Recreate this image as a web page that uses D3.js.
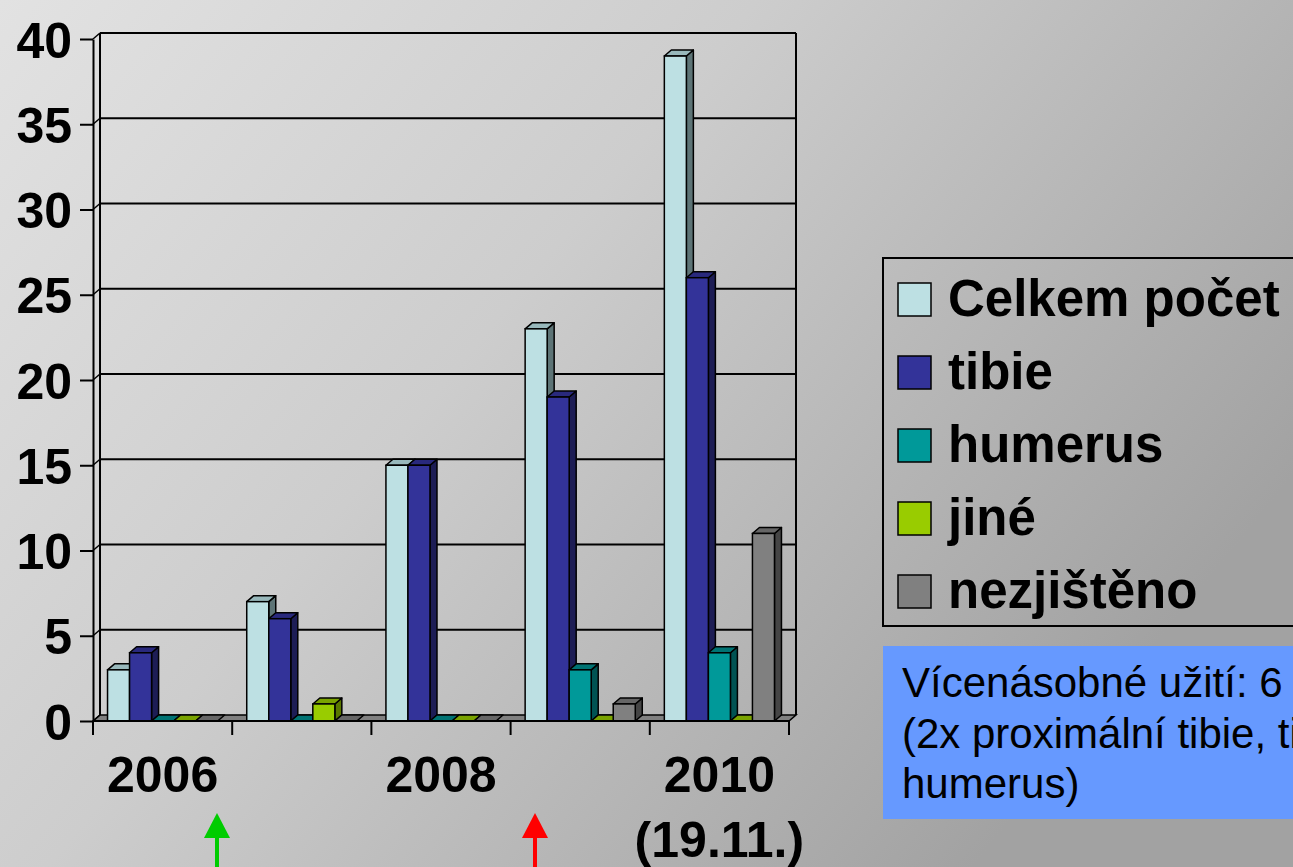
<!DOCTYPE html>
<html>
<head>
<meta charset="utf-8">
<script src="https://cdn.jsdelivr.net/npm/d3@7"></script>
<style>
  body { margin: 0; overflow: hidden; }
  text { font-family: "Liberation Sans", Arial, sans-serif; }
</style>
</head>
<body>
<div id="graf"></div>
<script>
// I. Datos
roky = ['2006', '2007', '2008', '2009', '2010']
popisky = ['2006', '', '2008', '', '2010']
popisky2 = ['', '', '', '', '(19.11.)']
serie = ['Celkem počet', 'tibie', 'humerus', 'jiné', 'nezjištěno']
celkem     = [3, 7, 15, 23, 39]
tibie      = [4, 6, 15, 19, 26]
humerus    = [0, 0, 0, 3, 4]
jine       = [0, 1, 0, 0, 0]
nezjisteno = [0, 0, 0, 1, 11]
yTicks = [0, 5, 10, 15, 20, 25, 30, 35, 40]
poznamka = ['Vícenásobné užití: 6', '(2x proximální tibie, tibie a', 'humerus)']

hodnoty = [celkem, tibie, humerus, jine, nezjisteno]
// barvy: předek, vrch, bok
barvy = [
  ['#bde0e3', '#98b8bb', '#5d7476'],
  ['#333399', '#29297d', '#1d1d55'],
  ['#009999', '#007373', '#005353'],
  ['#99cc00', '#7aa300', '#5a7800'],
  ['#808080', '#666666', '#454545']
]

// II. Configuración
W = 1293, H = 867
hloubka = { dx: 7, dy: -6 }

svg = d3.select('#graf').append('svg')
        .attr('width', W).attr('height', H)

defs = svg.append('defs')
grad = defs.append('linearGradient').attr('id', 'bg')
           .attr('x1', 0).attr('y1', 0).attr('x2', 1).attr('y2', 0.55)
grad.append('stop').attr('offset', '0%').attr('stop-color', '#e2e2e2')
grad.append('stop').attr('offset', '45%').attr('stop-color', '#cdcdcd')
grad.append('stop').attr('offset', '100%').attr('stop-color', '#a2a2a2')
svg.append('rect').attr('width', W).attr('height', H).attr('fill', 'url(#bg)')

y = d3.scaleLinear().domain([0, 40]).range([721, 39])
x = d3.scaleBand().domain(roky).range([93, 789]).paddingInner(0).paddingOuter(0)
xs = d3.scaleBand().domain(serie).range([0, x.bandwidth()]).paddingInner(0).paddingOuter(0.66)

g = svg.append('g')

// back wall + floor
x0 = x.range()[0], x1 = x.range()[1]
g.append('path')
  .attr('d', `M${x0},${y(0)} L${x1},${y(0)} L${x1 + hloubka.dx},${y(0) + hloubka.dy} L${x0 + hloubka.dx},${y(0) + hloubka.dy} Z`)
  .attr('fill', '#808080').attr('stroke', '#000').attr('stroke-width', 1.5)

yTicks.forEach(t => {
  g.append('line')
    .attr('x1', x0 + hloubka.dx).attr('x2', x1 + hloubka.dx)
    .attr('y1', y(t) + hloubka.dy).attr('y2', y(t) + hloubka.dy)
    .attr('stroke', '#000').attr('stroke-width', t === 0 ? 0 : 2)
  g.append('line')
    .attr('x1', x0).attr('x2', x0 + hloubka.dx)
    .attr('y1', y(t)).attr('y2', y(t) + hloubka.dy)
    .attr('stroke', '#000').attr('stroke-width', 1.5)
})
g.append('line')
  .attr('x1', x0 + hloubka.dx).attr('x2', x0 + hloubka.dx)
  .attr('y1', y(40) + hloubka.dy).attr('y2', y(0) + hloubka.dy)
  .attr('stroke', '#000').attr('stroke-width', 2)
g.append('line')
  .attr('x1', x1 + hloubka.dx).attr('x2', x1 + hloubka.dx)
  .attr('y1', y(40) + hloubka.dy).attr('y2', y(0) + hloubka.dy)
  .attr('stroke', '#000').attr('stroke-width', 2)

// III. Bars (zleva doprava, pravý sloupec překryje bok levého)
roky.forEach((rok, i) => {
  serie.forEach((s, j) => {
    let v = hodnoty[j][i]
    let bx = x(rok) + xs(s)
    let bw = xs.bandwidth()
    let vrch = y(v), spod = y(0)
    let c = barvy[j]
    let bar = g.append('g')
    if (v > 0) {
      bar.append('path')
        .attr('d', `M${bx + bw},${spod} L${bx + bw + hloubka.dx},${spod + hloubka.dy} L${bx + bw + hloubka.dx},${vrch + hloubka.dy} L${bx + bw},${vrch} Z`)
        .attr('fill', c[2]).attr('stroke', '#000').attr('stroke-width', 1.5).attr('stroke-linejoin', 'round')
    }
    bar.append('path')
      .attr('d', `M${bx},${vrch} L${bx + hloubka.dx},${vrch + hloubka.dy} L${bx + bw + hloubka.dx},${vrch + hloubka.dy} L${bx + bw},${vrch} Z`)
      .attr('fill', c[1]).attr('stroke', '#000').attr('stroke-width', 1.5).attr('stroke-linejoin', 'round')
    if (v > 0) {
      bar.append('rect')
        .attr('x', bx).attr('y', vrch).attr('width', bw).attr('height', spod - vrch)
        .attr('fill', c[0]).attr('stroke', '#000').attr('stroke-width', 1.5)
    }
  })
})

// IV. Axes
yAxis = svg.append('g')
  .attr('transform', `translate(${x0},0)`)
  .call(d3.axisLeft(y).tickValues(yTicks).tickSize(13).tickSizeOuter(0).tickPadding(8))
yAxis.select('.domain').attr('stroke-width', 2)
yAxis.selectAll('.tick line').attr('stroke-width', 2)
yAxis.selectAll('text')
  .style('font-size', '50px').style('font-weight', 'bold')
  .attr('fill', '#000').attr('dy', '0.36em')

svg.append('line')
  .attr('x1', x0).attr('x2', x0).attr('y1', y(0)).attr('y2', y(0) + 14)
  .attr('stroke', '#000').attr('stroke-width', 2)
svg.append('line')
  .attr('x1', x0).attr('x2', x1).attr('y1', y(0)).attr('y2', y(0))
  .attr('stroke', '#000').attr('stroke-width', 2)
roky.concat(['end']).forEach((r, i) => {
  let tx = i < roky.length ? x(r) : x1
  svg.append('line')
    .attr('x1', tx).attr('x2', tx).attr('y1', y(0)).attr('y2', y(0) + 14)
    .attr('stroke', '#000').attr('stroke-width', 2)
})
roky.forEach((r, i) => {
  let cx = x(r) + x.bandwidth() / 2
  svg.append('text').attr('x', cx).attr('y', 792)
    .attr('text-anchor', 'middle').style('font-size', '50px').style('font-weight', 'bold')
    .text(popisky[i])
  svg.append('text').attr('x', cx).attr('y', 857)
    .attr('text-anchor', 'middle').style('font-size', '50px').style('font-weight', 'bold')
    .text(popisky2[i])
})

// V. Legend
leg = svg.append('g')
leg.append('rect').attr('x', 883).attr('y', 258).attr('width', 440).attr('height', 368)
   .attr('fill', 'none').attr('stroke', '#000').attr('stroke-width', 2)
serie.forEach((s, j) => {
  let ly = 283 + j * 73
  leg.append('rect').attr('x', 898).attr('y', ly).attr('width', 33).attr('height', 33)
     .attr('fill', barvy[j][0]).attr('stroke', '#000').attr('stroke-width', 1.5)
  leg.append('text').attr('x', 948).attr('y', ly + 33)
     .style('font-size', '51px').style('font-weight', 'bold').text(s)
})

// VI. Note
svg.append('rect').attr('x', 883).attr('y', 646).attr('width', 440).attr('height', 173)
   .attr('fill', '#6699ff')
poznamka.forEach((t, i) => {
  svg.append('text').attr('x', 902).attr('y', 697 + i * 50.5)
     .style('font-size', '42px').attr('fill', '#000').text(t)
})

// VII. Arrows
sipky = [{ x: 217, barva: '#00cc00' }, { x: 535, barva: '#ff0000' }]
sipky.forEach(a => {
  svg.append('line').attr('x1', a.x).attr('x2', a.x).attr('y1', 835).attr('y2', H)
     .attr('stroke', a.barva).attr('stroke-width', 4)
  svg.append('path')
     .attr('d', `M${a.x},${813} L${a.x - 13},${838} L${a.x + 13},${838} Z`)
     .attr('fill', a.barva)
})
</script>
</body>
</html>
